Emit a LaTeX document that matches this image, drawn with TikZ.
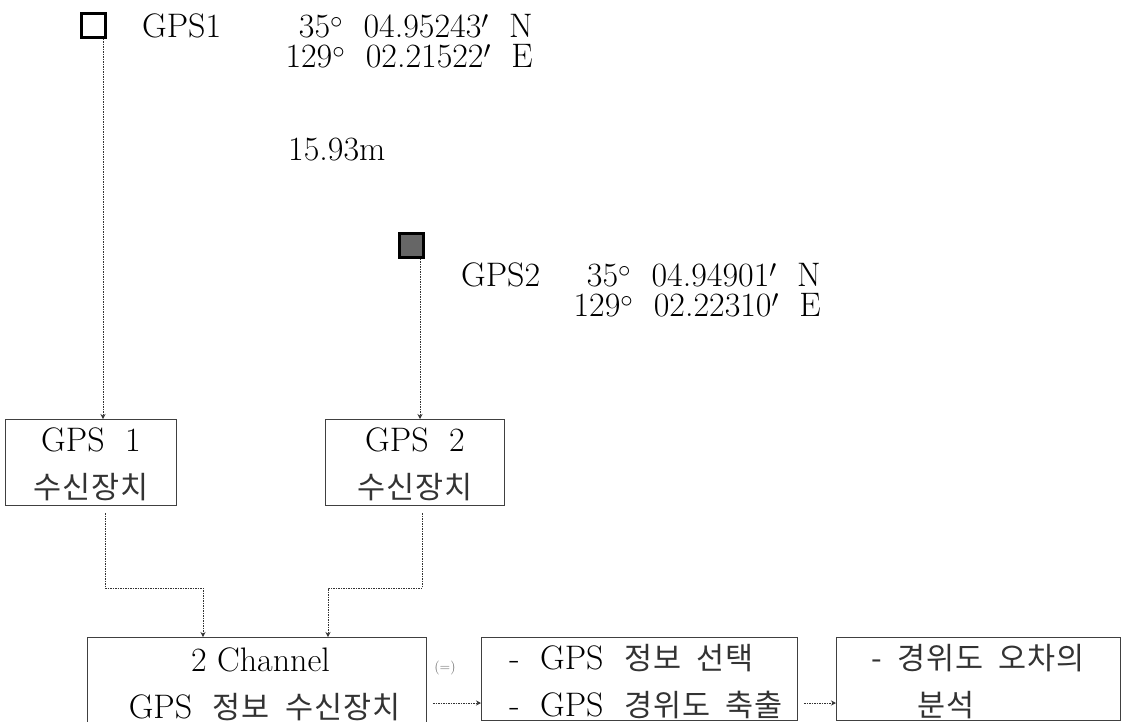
\documentclass[tikz,border=0pt]{standalone}
\usepackage{fontspec}
\newfontfamily\cjk[LetterSpace=3]{Noto Sans CJK KR}
\usetikzlibrary{positioning,arrows.meta}
\tikzset{
  rbox/.style  ={rectangle, draw=black!75, line width=1pt, align=center, inner sep=0pt, outer sep=0pt,
                 font=\fontsize{34}{47}\selectfont},
  antbox/.style={rectangle, draw=black, line width=3pt, minimum size=24pt, inner sep=0pt, outer sep=1.5pt},
  coord/.style ={inner sep=0pt, anchor=east, align=right, font=\fontsize{34}{30}\selectfont},
  lab/.style   ={inner sep=0pt, anchor=west, font=\fontsize{34}{30}\selectfont},
  arr/.style   ={-{Stealth[length=5pt,width=5pt]}, line width=1pt, dash pattern=on 1.5pt off 1pt, black!80},
}
\newcommand{\kr}[1]{{\cjk\fontsize{30.5}{47}\selectfont\color{black!80} #1}}
\newcommand{\topgap}{\rule{0pt}{31pt}}
\newcommand{\lead}{\hspace*{14pt}}
\begin{document}
\begin{tikzpicture}[x=1pt, y=-1pt]
  \useasboundingbox (0,0) rectangle (1125,721);
  % satellites
  \node[antbox] (ant1) at (93,25) {};
  \node[antbox, fill=black!60] (ant2) at (411,245) {};
  \node[lab] (name1) at (142,26) {GPS1};
  \node[lab] (name2) at (461,275) {GPS2};
  \node[coord] (coord1) at (533,41) {35$^\circ$\ \ 04.95243$'$\ \ N\\129$^\circ$\ \ 02.21522$'$\ \ E};
  \node[coord] (coord2) at (821,290) {35$^\circ$\ \ 04.94901$'$\ \ N\\129$^\circ$\ \ 02.22310$'$\ \ E};
  \node[lab] (dist) at (288,150) {15.93m};
  % receivers
  \node[rbox, minimum width=171pt, minimum height=86pt] (recv1) at (91,462) {\rule{0pt}{29pt}GPS\ \ 1\\\kr{수신장치}};
  \node[rbox, minimum width=179pt, minimum height=86pt, right=149pt of recv1] (recv2) {\rule{0pt}{29pt}GPS\ \ 2\\\kr{수신장치}};
  % bottom row
  \node[rbox, minimum width=339pt, minimum height=94pt, anchor=north west] (chan) at (87,637)
    {\hspace*{8pt}2 Channel\\\hspace*{16pt}GPS\ \ \kr{정보\ \ 수신장치}};
  \node[rbox, minimum width=316pt, minimum height=83pt, anchor=north west, align=left] (sel) at (481,637)
    {\topgap\lead-\ \ GPS\ \ \kr{정보\ \ 선택}\\\lead-\ \ GPS\ \ \kr{경위도\ \ 축출}};
  \node[rbox, minimum width=284pt, minimum height=83pt, right=39pt of sel, align=left] (ana)
    {\topgap\kr{-\ \ 경위도\ \ 오차의}\\\kr{\ \ \ \ \ \ 분석}};
  \node[inner sep=0pt, text=black!60, font=\fontsize{14}{14}\selectfont] (note) at (445,668) {(=)};
  % connectors
  \coordinate (drop1) at (103,0);
  \coordinate (drop2) at (420,0);
  \coordinate (bend1a) at (105,588);
  \coordinate (bend1b) at (203,588);
  \coordinate (bend2a) at (422,588);
  \coordinate (bend2b) at (328,588);
  \coordinate (row) at (0,703);
  \draw[arr] (ant1.south -| drop1) -- (recv1.north -| drop1);
  \draw[arr] (ant2.south -| drop2) -- (recv2.north -| drop2);
  \draw[arr, shorten <=8pt] (recv1.south -| bend1a) -- (bend1a) -- (bend1b) -- (chan.north -| bend1b);
  \draw[arr, shorten <=8pt] (recv2.south -| bend2a) -- (bend2a) -- (bend2b) -- (chan.north -| bend2b);
  \draw[arr, shorten <=7pt] (chan.east |- row) -- (sel.west |- row);
  \draw[arr, shorten <=7pt] (sel.east |- row) -- (ana.west |- row);
\end{tikzpicture}
\end{document}
